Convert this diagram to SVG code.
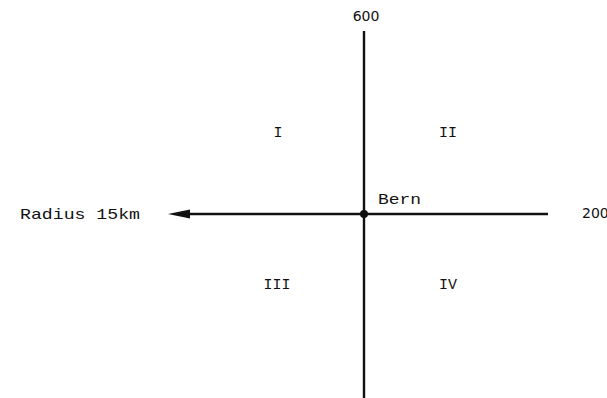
<svg xmlns="http://www.w3.org/2000/svg" width="607" height="398" viewBox="0 0 607 398">
<style>
.mono{font-family:"Liberation Mono","Courier New",monospace;font-size:15px;fill:#111}
.sans{font-family:"DejaVu Sans","Liberation Sans",sans-serif;font-size:14px;fill:#111}
.ax{stroke:#111;stroke-width:2.4;fill:none}
</style>
<rect width="607" height="398" fill="#fff"/>
<g id="connectors">
<line class="ax" x1="364" y1="31" x2="364" y2="398"/>
<line class="ax" x1="548" y1="214" x2="186" y2="214"/>
<path d="M168,214 L190,209.5 L190,218.5 Z" fill="#111"/>
</g>
<g id="bern">
<circle cx="364" cy="214" r="4" fill="#111"/>
<text class="mono" x="378" y="204" textLength="43" lengthAdjust="spacingAndGlyphs">Bern</text>
</g>
<g id="label-600"><text class="sans" x="366" y="21" text-anchor="middle">600</text></g>
<g id="label-200"><text class="sans" x="582" y="218">200</text></g>
<g id="label-radius"><text class="mono" x="20" y="219" textLength="120" lengthAdjust="spacingAndGlyphs">Radius 15km</text></g>
<g id="q1"><text class="mono" x="278" y="137" text-anchor="middle">I</text></g>
<g id="q2"><text class="mono" x="448" y="137" text-anchor="middle">II</text></g>
<g id="q3"><text class="mono" x="277" y="289" text-anchor="middle">III</text></g>
<g id="q4"><text class="mono" x="448" y="289" text-anchor="middle">IV</text></g>
</svg>
